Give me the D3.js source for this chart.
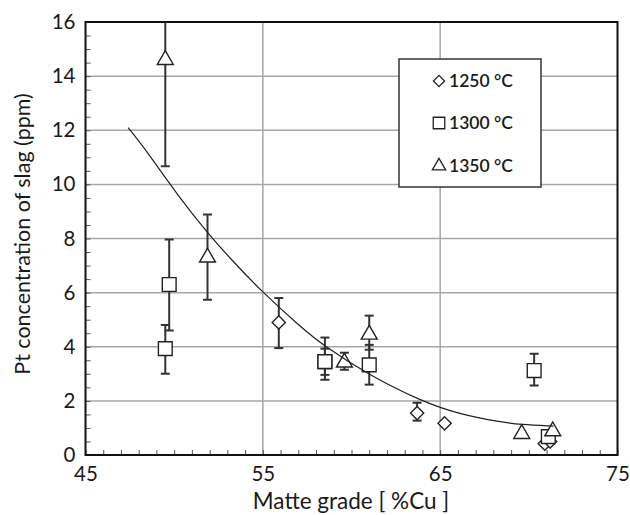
<!DOCTYPE html>
<html>
<head>
<meta charset="utf-8">
<script src="https://cdn.jsdelivr.net/npm/d3@7"></script>
<style>
  html, body { margin: 0; padding: 0; background: #fff; }
  svg { display: block; }
  text { font-family: Lato, "Open Sans", sans-serif; fill: #1a1a1a; }
</style>
</head>
<body>
<svg id="chart" width="630" height="515"></svg>
<script>
// ---- data ----
const xTickLabels = [45, 55, 65, 75];
const yTickLabels = [0, 2, 4, 6, 8, 10, 12, 14, 16];
const seriesNames = ["1250 °C", "1300 °C", "1350 °C"];

const x1250  = [55.9, 63.7, 65.25, 70.9, 71.2];
const y1250  = [4.9, 1.55, 1.17, 0.42, 0.5];
const lo1250 = [3.95, 1.27, null, null, null];
const hi1250 = [5.8, 1.93, null, null, null];

const x1300  = [49.5, 49.72, 58.5, 58.5, 61.0, 70.3, 71.1];
const y1300  = [3.93, 6.3, 3.45, 3.45, 3.33, 3.12, 0.68];
const lo1300 = [3.0, 4.6, 2.78, 2.96, 2.6, 2.57, null];
const hi1300 = [4.8, 7.96, 4.34, 3.93, 4.07, 3.74, null];

const x1350  = [49.5, 51.88, 59.6, 61.0, 69.6, 71.35];
const y1350  = [14.6, 7.3, 3.42, 4.45, 0.78, 0.88];
const lo1350 = [10.67, 5.74, 3.15, 3.89, null, null];
const hi1350 = [18.5, 8.89, 3.78, 5.15, null, null];

// trend line
const trendX = [47.4, 48.1, 50.3, 51.9, 53.1, 55.0, 57.1, 58.5, 61.0, 63.9, 66.1, 68.4, 69.5, 71.4];
const trendY = [12.1, 11.55, 9.5, 8.2, 7.3, 6.0, 4.75, 4.0, 2.95, 2.0, 1.5, 1.22, 1.12, 1.07];

// ---- layout ----
const svg = d3.select("#chart");
const L = 85.5, R = 617.5, T = 22, B = 455;
const x = d3.scaleLinear().domain([45, 75]).range([L, R]);
const y = d3.scaleLinear().domain([0, 16]).range([B, T]);

svg.append("defs").append("clipPath").attr("id", "plotclip")
  .append("rect").attr("x", L).attr("y", T).attr("width", R - L).attr("height", B - T);

// gridlines
const grid = svg.append("g");
grid.selectAll(".gy").data(yTickLabels.filter(v => v > 0 && v < 16)).join("line")
  .attr("x1", L).attr("x2", R).attr("y1", d => y(d)).attr("y2", d => y(d))
  .attr("stroke", "#a6a6a6").attr("stroke-width", 1.5);
grid.selectAll(".gx").data(xTickLabels.filter(v => v > 45 && v < 75)).join("line")
  .attr("y1", T).attr("y2", B).attr("x1", d => x(d)).attr("x2", d => x(d))
  .attr("stroke", "#a6a6a6").attr("stroke-width", 1.5);

// axes (inside minor ticks)
const xAxis = d3.axisBottom(x).tickValues(d3.range(45, 75.01, 1))
  .tickSizeInner(-5).tickSizeOuter(0).tickPadding(11)
  .tickFormat(d => xTickLabels.includes(d) ? d : "");
const gx = svg.append("g").attr("transform", `translate(0,${B})`).call(xAxis);
const yAxis = d3.axisLeft(y).tickValues(d3.range(0, 16.01, 0.5))
  .tickSizeInner(-5).tickSizeOuter(0).tickPadding(10)
  .tickFormat(d => yTickLabels.includes(d) ? d : "");
const gy = svg.append("g").attr("transform", `translate(${L},0)`).call(yAxis);
[gx, gy].forEach(g => {
  g.select(".domain").remove();
  g.selectAll(".tick line").attr("stroke", "#555").attr("stroke-width", 1);
  g.selectAll(".tick text").style("font-size", "20.5px").attr("fill", "#1a1a1a");
});

// frame
svg.append("rect").attr("x", L).attr("y", T).attr("width", R - L).attr("height", B - T)
  .attr("fill", "none").attr("stroke", "#111").attr("stroke-width", 2);

// axis titles
svg.append("text").attr("x", 351).attr("y", 509).attr("text-anchor", "middle")
  .style("font-size", "22.5px").text("Matte grade [ %Cu ]");
svg.append("text").attr("transform", "translate(30,234) rotate(-90)").attr("text-anchor", "middle")
  .style("font-size", "21.5px").text("Pt concentration of slag (ppm)");

// series
const series = [
  { xs: x1250, ys: y1250, lo: lo1250, hi: hi1250, sym: d3.symbolSquare, size: 88, rot: 45 },
  { xs: x1300, ys: y1300, lo: lo1300, hi: hi1300, sym: d3.symbolSquare, size: 190, rot: 0 },
  { xs: x1350, ys: y1350, lo: lo1350, hi: hi1350, sym: d3.symbolTriangle, size: 110, rot: 0 }
];

const plot = svg.append("g").attr("clip-path", "url(#plotclip)");

// error bars
series.forEach(s => {
  const rows = s.xs.map((v, i) => ({ x: v, lo: s.lo[i], hi: s.hi[i] })).filter(r => r.lo != null);
  const g = plot.append("g").attr("stroke", "#333").attr("stroke-width", 2);
  rows.forEach(r => {
    g.append("line").attr("x1", x(r.x)).attr("x2", x(r.x)).attr("y1", y(r.lo)).attr("y2", y(r.hi));
    [r.lo, r.hi].forEach(v => g.append("line")
      .attr("x1", x(r.x) - 4.5).attr("x2", x(r.x) + 4.5).attr("y1", y(v)).attr("y2", y(v)));
  });
});

// markers
series.forEach(s => {
  const pts = s.xs.map((v, i) => ({ x: v, y: s.ys[i] }));
  plot.append("g").selectAll("path").data(pts).join("path")
    .attr("d", d3.symbol().type(s.sym).size(s.size))
    .attr("transform", d => `translate(${x(d.x)},${y(d.y)}) rotate(${s.rot})`)
    .attr("fill", "#fff").attr("stroke", "#222").attr("stroke-width", 1.4);
});

// trend line
const trend = trendX.map((v, i) => ({ x: v, y: trendY[i] }));
plot.append("path").datum(trend)
  .attr("d", d3.line().x(d => x(d.x)).y(d => y(d.y)).curve(d3.curveBasis))
  .attr("fill", "none").attr("stroke", "#222").attr("stroke-width", 1.2);

// legend
const lg = svg.append("g");
lg.append("rect").attr("x", 399).attr("y", 59).attr("width", 142).attr("height", 128)
  .attr("fill", "#fff").attr("stroke", "#333").attr("stroke-width", 1.5);
const legendY = [81, 123, 166];
series.forEach((s, i) => {
  lg.append("path").attr("d", d3.symbol().type(s.sym).size(s.size * 0.7))
    .attr("transform", `translate(439,${legendY[i]}) rotate(${s.rot})`)
    .attr("fill", "#fff").attr("stroke", "#222").attr("stroke-width", 1.3);
  lg.append("text").attr("x", 449).attr("y", legendY[i]).attr("dy", "0.35em")
    .style("font-size", "17.5px").style("font-weight", "600").text(seriesNames[i]);
});
</script>
</body>
</html>
